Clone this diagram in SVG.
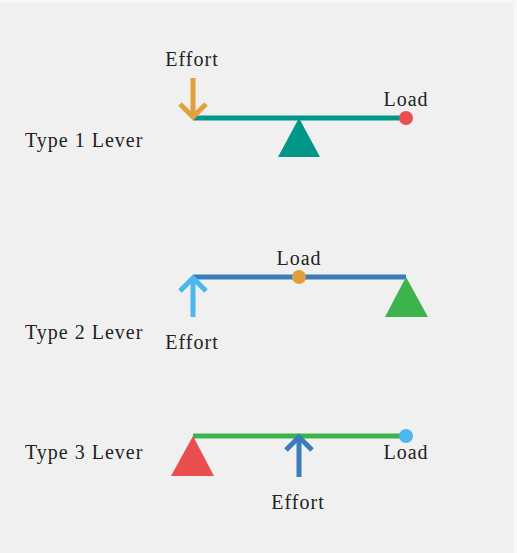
<svg xmlns="http://www.w3.org/2000/svg" width="517" height="553" viewBox="0 0 517 553">
<style>
  text { font-family: "Liberation Serif", "Times New Roman", serif; font-size: 20px; fill: #222; letter-spacing: 1px; }
  .mid { text-anchor: middle; }
  .beam { stroke-width: 5; fill: none; }
  .arrow { stroke-width: 5; fill: none; stroke-linecap: butt; stroke-linejoin: miter; }
</style>
<rect x="0" y="0" width="517" height="553" fill="#f7f7f7"/>
<rect x="0" y="3" width="513" height="550" fill="#f0f0f0"/>

<g id="type1">
  <text x="25" y="147">Type 1 Lever</text>
  <line class="beam" x1="193" y1="118" x2="406" y2="118" stroke="#009688"/>
  <polygon points="299,118 320,157 278,157" fill="#009688"/>
  <circle cx="406" cy="118" r="7" fill="#ea4e4f"/>
  <g stroke="#e2a03c" class="arrow">
    <line x1="193" y1="78" x2="193" y2="116"/>
    <polyline points="180,104 193,117 206,104"/>
  </g>
  <text class="mid" x="192" y="66">Effort</text>
  <text class="mid" x="406" y="106">Load</text>
</g>

<g id="type2">
  <text x="25" y="339">Type 2 Lever</text>
  <line class="beam" x1="193" y1="277" x2="406" y2="277" stroke="#3b7db8"/>
  <polygon points="406,277 428,317 385,317" fill="#3cb44b"/>
  <circle cx="299" cy="277" r="7" fill="#e2a03c"/>
  <g stroke="#4cb6ee" class="arrow">
    <line x1="193" y1="317" x2="193" y2="279"/>
    <polyline points="180,291 193,278 206,291"/>
  </g>
  <text class="mid" x="299" y="265">Load</text>
  <text class="mid" x="192" y="349">Effort</text>
</g>

<g id="type3">
  <text x="25" y="459">Type 3 Lever</text>
  <line class="beam" x1="193" y1="436" x2="406" y2="436" stroke="#3cb44b"/>
  <polygon points="193,436 214,476 171,476" fill="#ea4e4f"/>
  <circle cx="406" cy="436" r="7" fill="#4cb6ee"/>
  <g stroke="#3b7db8" class="arrow">
    <line x1="299" y1="477" x2="299" y2="438"/>
    <polyline points="286,450 299,437 312,450"/>
  </g>
  <text class="mid" x="406" y="459">Load</text>
  <text class="mid" x="298" y="509">Effort</text>
</g>
</svg>
